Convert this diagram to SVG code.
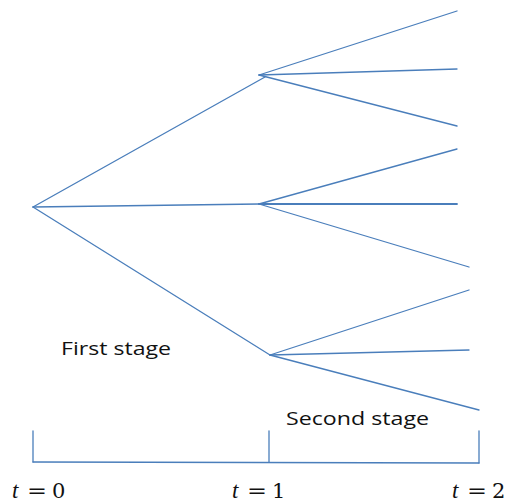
<svg xmlns="http://www.w3.org/2000/svg" width="510" height="504" viewBox="0 0 510 504">
<style>
.e{stroke:#4a7ebb;stroke-width:1.3;fill:none;stroke-linecap:round}
.lbl{font-family:"Open Sans","Noto Sans","Liberation Sans",sans-serif;font-size:18px;fill:#111}
.m{font-family:"DejaVu Serif","Liberation Serif",serif;font-size:21px;fill:#111}
</style>
<rect width="510" height="504" fill="#fff"/>
<g id="edges">
<line class="e" x1="33" y1="207" x2="265" y2="77"/>
<line class="e" x1="33" y1="207" x2="259" y2="204"/>
<line class="e" x1="33" y1="207" x2="270" y2="355"/>
<line class="e" x1="259" y1="75" x2="457" y2="11"/>
<line class="e" x1="259" y1="75" x2="457" y2="69"/>
<line class="e" x1="259" y1="75" x2="457" y2="126"/>
<line class="e" x1="259" y1="204" x2="457" y2="149"/>
<line class="e" x1="259" y1="204" x2="457" y2="204" style="stroke-width:1.8"/>
<line class="e" x1="259" y1="204" x2="469" y2="267"/>
<line class="e" x1="270" y1="355" x2="469" y2="290"/>
<line class="e" x1="270" y1="355" x2="469" y2="350"/>
<line class="e" x1="270" y1="355" x2="479" y2="410"/>
</g>
<g id="axis">
<line class="e" x1="33" y1="431" x2="33" y2="462"/>
<line class="e" x1="269" y1="431" x2="269" y2="462"/>
<line class="e" x1="479" y1="431" x2="479" y2="463"/>
<line class="e" x1="33" y1="462" x2="479" y2="463"/>
</g>
<g id="labels">
<text class="lbl" x="61" y="355" textLength="110" lengthAdjust="spacingAndGlyphs">First stage</text>
<text class="lbl" x="286" y="425" textLength="143" lengthAdjust="spacingAndGlyphs">Second stage</text>
<text class="m" y="498"><tspan x="12" font-style="italic" font-family="Liberation Serif" font-size="23">t</tspan><tspan x="27" textLength="20" lengthAdjust="spacingAndGlyphs">=</tspan><tspan x="52">0</tspan></text>
<text class="m" y="498"><tspan x="232" font-style="italic" font-family="Liberation Serif" font-size="23">t</tspan><tspan x="247" textLength="20" lengthAdjust="spacingAndGlyphs">=</tspan><tspan x="272">1</tspan></text>
<text class="m" y="498"><tspan x="452" font-style="italic" font-family="Liberation Serif" font-size="23">t</tspan><tspan x="467" textLength="20" lengthAdjust="spacingAndGlyphs">=</tspan><tspan x="492">2</tspan></text>
</g>
</svg>
